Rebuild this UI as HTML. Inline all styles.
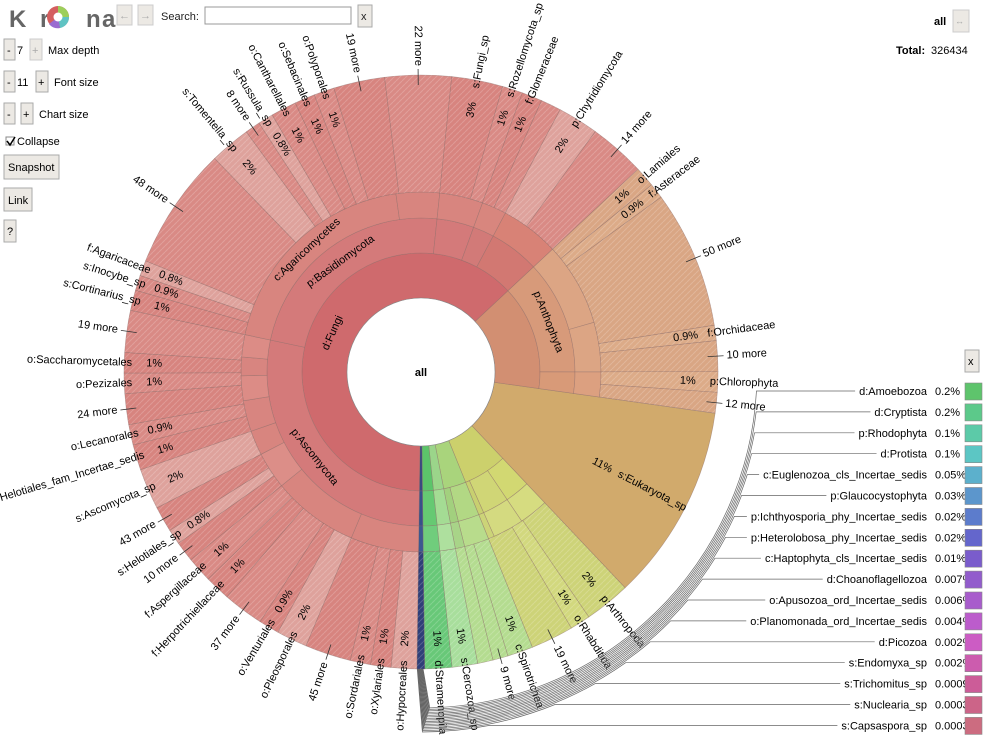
<!DOCTYPE html>
<html><head><meta charset="utf-8">
<style>
body{margin:0;background:#fff;font-family:"Liberation Sans",sans-serif;}
svg{display:block}
text{font-family:"Liberation Sans","DejaVu Sans",sans-serif;}
</style></head>
<body>
<svg id="chart" width="992" height="748" viewBox="0 0 992 748" xmlns="http://www.w3.org/2000/svg">
<defs>
<pattern id="hatch" width="6" height="6" patternUnits="userSpaceOnUse">
<path d="M0 3 L3 0 M3 6 L6 3" stroke="#ffffff" stroke-opacity="0.18" stroke-width="1"/>
</pattern>
</defs>
<g id="header">
<text x="9" y="27" font-size="24" font-weight="bold" fill="#666">K</text>
<text x="40" y="27" font-size="24" font-weight="bold" fill="#666">r</text>
<g>
<circle cx="58" cy="17" r="11" fill="#d45f5f"/>
<path d="M58 17 L58 6 A11 11 0 0 1 69 17 Z" fill="#9ccf5b"/>
<path d="M58 17 L69 17 A11 11 0 0 1 60 28 Z" fill="#5fc3c3"/>
<path d="M58 17 L60 28 A11 11 0 0 1 49 24 Z" fill="#9a6bd0"/>
<circle cx="58" cy="17" r="4.5" fill="#fff"/>
</g>
<text x="86" y="27" font-size="24" font-weight="bold" fill="#666">n</text>
<text x="102" y="27" font-size="24" font-weight="bold" fill="#666">a</text>
<rect x="117" y="5" width="15" height="20" fill="#ece9e4" stroke="#ccc"/>
<text x="119" y="19" font-size="11" fill="#aaa">←</text>
<rect x="138" y="5" width="15" height="20" fill="#ece9e4" stroke="#ccc"/>
<text x="140" y="19" font-size="11" fill="#aaa">→</text>
<text x="161" y="20" font-size="11" fill="#222">Search:</text>
<rect x="205" y="7" width="146" height="17" fill="#fff" stroke="#999"/>
<rect x="358" y="5" width="14" height="22" fill="#ece9e4" stroke="#aaa"/>
<text x="361" y="20" font-size="11" fill="#222">x</text>
<rect x="4" y="39" width="11" height="21" fill="#ece9e4" stroke="#aaa"/>
<text x="7" y="54" font-size="11">-</text>
<text x="17" y="54" font-size="11">7</text>
<rect x="30" y="39" width="12" height="21" fill="#ece9e4" stroke="#ccc"/>
<text x="32" y="54" font-size="11" fill="#aaa">+</text>
<text x="48" y="54" font-size="11">Max depth</text>
<rect x="4" y="71" width="11" height="21" fill="#ece9e4" stroke="#aaa"/>
<text x="7" y="86" font-size="11">-</text>
<text x="17" y="86" font-size="11">11</text>
<rect x="36" y="71" width="12" height="21" fill="#ece9e4" stroke="#aaa"/>
<text x="38" y="86" font-size="11">+</text>
<text x="54" y="86" font-size="11">Font size</text>
<rect x="4" y="103" width="11" height="21" fill="#ece9e4" stroke="#aaa"/>
<text x="7" y="118" font-size="11">-</text>
<rect x="21" y="103" width="12" height="21" fill="#ece9e4" stroke="#aaa"/>
<text x="23" y="118" font-size="11">+</text>
<text x="39" y="118" font-size="11">Chart size</text>
<rect x="6" y="137" width="8" height="8" fill="#fff" stroke="#888"/>
<path d="M7 141 L10 145 L15 137" stroke="#000" stroke-width="1.5" fill="none"/>
<text x="17" y="145" font-size="11">Collapse</text>
<rect x="4" y="155" width="55" height="24" fill="#ece9e4" stroke="#aaa"/>
<text x="8" y="171" font-size="11">Snapshot</text>
<rect x="4" y="188" width="28" height="23" fill="#ece9e4" stroke="#aaa"/>
<text x="8" y="204" font-size="11">Link</text>
<rect x="4" y="220" width="12" height="22" fill="#ece9e4" stroke="#aaa"/>
<text x="7" y="235" font-size="11">?</text>
<text x="934" y="25" font-size="11" font-weight="bold">all</text>
<rect x="953" y="10" width="16" height="22" fill="#ece9e4" stroke="#ccc"/>
<text x="955" y="24" font-size="9" fill="#aaa">↔</text>
<text x="896" y="54" font-size="11" font-weight="bold">Total:</text>
<text x="931" y="54" font-size="11">326434</text>
<rect x="965" y="350" width="14" height="22" fill="#ece9e4" stroke="#aaa"/>
<text x="968" y="365" font-size="11">x</text>
</g>
<g id="wedges"></g>
<g id="labels"></g>
<g id="legend"></g>
<circle cx="421" cy="372" r="74" fill="#fff" stroke="#888" stroke-width="0.6"/>
<text x="421" y="376" font-size="11" font-weight="bold" text-anchor="middle">all</text>
</svg>
<script>
// ---- data (values in percent of total, consecutive around the circle starting at 8deg) ----
const startAngle = 8;
const domainNames = ["s:Eukaryota_sp","d:...oa","d:Alveolata","d:...ia","d:Stramenopila","others","d:Fungi","d:Viridiplantae"];
const domainValues = [10.72,5.94,3.06,1.39,1.47,0.42,62.83,14.17];
const domainColors = ["#d1aa6c","#ccd06c","#a9d47c","#9bd58a","#5cc46a","#3a4a80","#cf6a6d","#d28f72"];
const phylumNames = ["","p:Arthropoda","p:N...oda","","p:Ciliophora","","","","","p:Ascomycota","p:Basidiomycota","p:Rozellomycota","p:...ta","","p:Anthophyta","p:Chlorophyta"];
const phylumValues = [10.72,2.61,2.78,0.55,2.22,0.84,1.39,1.47,0.42,28.11,23.33,3.89,2.22,5.28,11.94,2.23];
const phylumColors = [null,"#d2d872","#d0d676","#c8d070","#b2d884","#a2d07e","#a4dc94","#66c972","#37508a","#d47a7a","#d47a7a","#d47a7a","#d27a78","#d27872","#d79a7a","#d89a78"];
const className = ["","","c:Chromadorea","","c:Ce...edis","","","","","c:So...etes","c:Dothi...mycetes","c:Eur...cetes","c:Le...etes","","","","","c:Agaricomycetes","","","c:Glo...cetes","","c:Eudicotyledonae","c:Mon...donae",""];
const classValues = [10.72,2.61,2.78,0.55,2.22,0.84,1.39,1.47,0.42,6.11,7.78,3.33,2.22,2.78,2.22,1.67,2.0,19.44,3.89,3.89,2.22,5.28,7.5,4.44,2.23];
const classColors = [null,"#d6dc80","#d4da80","#ccd478","#b8dc8c","#a8d488","#aee09e","#70cd7c","#3c5890","#d8857f","#d8857f","#dc8e88","#d8857f","#d88580","#dc8c86","#d88580","#dc8c86","#d8857f","#d8857f","#d8857f","#d8867e","#d88276","#dca584","#dca584","#dca080"];
const leafNames = ["p:Arthropoda","o:Rhabditida","19 more","c:Spirotrichea","9 more","","s:Cercozoa_sp","d:Stramenopila","",
 "o:Hypocreales","o:Xylariales","o:Sordariales","45 more","o:Pleosporales","o:Venturiales","37 more","f:Herpotrichiellaceae","f:Aspergillaceae","10 more","s:Helotiales_sp","43 more","s:Ascomycota_sp","f:Helotiales_fam_Incertae_sedis","o:Lecanorales","24 more","o:Pezizales","o:Saccharomycetales","19 more",
 "s:Cortinarius_sp","s:Inocybe_sp","f:Agaricaceae","48 more","s:Tomentella_sp","8 more","s:Russula_sp","o:Cantharellales","o:Sebacinales","o:Polyporales","19 more","22 more",
 "s:Fungi_sp","s:Rozellomycota_sp","f:Glomeraceae","","p:Chytridiomycota","14 more",
 "o:Lamiales","f:Asteraceae","50 more","f:Orchidaceae","10 more","p:Chlorophyta","12 more"];
const leafValues = [2.5,1.11,2.33,1.39,0.83,0.84,1.39,1.47,0.42,
 1.39,1.11,1.11,2.5,1.67,1.11,2.22,1.39,1.39,1.11,0.83,1.39,2.22,1.39,1.11,1.67,1.11,1.11,2.28,
 1.11,0.83,0.83,6.67,2.22,0.83,0.83,1.39,1.11,1.11,2.78,3.61,
 2.78,1.11,1.11,1.11,2.22,3.06,
 1.11,0.83,7.5,0.83,1.67,1.11,1.12];
const leafPct = ["2%","1%","","1%","","","1%","1%","",
 "2%","1%","1%","","2%","0.9%","","1%","1%","","0.8%","","2%","1%","0.9%","","1%","1%","",
 "1%","0.9%","0.8%","","2%","","0.8%","1%","1%","1%","","",
 "3%","1%","1%","","2%","",
 "1%","0.9%","","0.9%","","1%",""];
const legendNames = ["d:Amoebozoa","d:Cryptista","p:Rhodophyta","d:Protista","c:Euglenozoa_cls_Incertae_sedis","p:Glaucocystophyta","p:Ichthyosporia_phy_Incertae_sedis","p:Heterolobosa_phy_Incertae_sedis","c:Haptophyta_cls_Incertae_sedis","d:Choanoflagellozoa","o:Apusozoa_ord_Incertae_sedis","o:Planomonada_ord_Incertae_sedis","d:Picozoa","s:Endomyxa_sp","s:Trichomitus_sp","s:Nuclearia_sp","s:Capsaspora_sp"];
const legendValues = ["0.2%","0.2%","0.1%","0.1%","0.05%","0.03%","0.02%","0.02%","0.01%","0.007%","0.006%","0.004%","0.002%","0.002%","0.0009%","0.0003%","0.0003%"];
const legendColors = ["#5ec46c","#5cc98a","#5ccaa8","#5cc6c4","#5cb0cc","#5c96cc","#5c7ccc","#6466cc","#7a5ccc","#925ccc","#a85ccc","#bc5ccc","#cc5cc4","#cc5cae","#cc5c98","#cc6488","#cc6c80"];

const cx = 421, cy = 372;
const R = {d0:74,d1:119,p1:154,c1:180,out:297};
const NS = "http://www.w3.org/2000/svg";
const wedgesG = document.getElementById('wedges');
const labelsG = document.getElementById('labels');
function angleOf(pct){ return startAngle + pct*3.6; }
function pt(r,a){ const t=a*Math.PI/180; return [cx+r*Math.cos(t), cy+r*Math.sin(t)]; }
function arc(r0,r1,a0,a1){
  const large = (a1-a0)>180?1:0;
  const p0=pt(r1,a0),p1=pt(r1,a1),p2=pt(r0,a1),p3=pt(r0,a0);
  return `M${p0[0]},${p0[1]} A${r1},${r1} 0 ${large} 1 ${p1[0]},${p1[1]} L${p2[0]},${p2[1]} A${r0},${r0} 0 ${large} 0 ${p3[0]},${p3[1]} Z`;
}
function wedge(r0,r1,a0,a1,fill,name,hatch){
  const p=document.createElementNS(NS,'path');
  p.setAttribute('d',arc(r0,r1,a0,a1));
  p.setAttribute('fill',fill);
  p.setAttribute('stroke','#8a6a66');
  p.setAttribute('stroke-opacity','0.55');
  p.setAttribute('stroke-width','0.6');
  
  
  wedgesG.appendChild(p);
  if(hatch){
    const h=document.createElementNS(NS,'path');
    h.setAttribute('d',arc(r0,r1,a0,a1));
    h.setAttribute('fill','url(#hatch)');
    h.setAttribute('pointer-events','none');
    
    
    wedgesG.appendChild(h);
  }
}
function radText(txt,r,a,name,anchorStart){
  const p=pt(r,a);
  let n=(a%360+360)%360;
  const left = n>90 && n<270;
  const rot = left? n+180 : n;
  const t=document.createElementNS(NS,'text');
  t.setAttribute('x',p[0]); t.setAttribute('y',p[1]);
  t.setAttribute('font-size','11');
  t.setAttribute('dominant-baseline','middle');
  t.setAttribute('text-anchor', anchorStart===undefined ? (left?'end':'start') : (anchorStart?(left?'end':'start'):'middle'));
  t.setAttribute('transform',`rotate(${rot} ${p[0]} ${p[1]})`);
  t.textContent=txt;
  
  
  labelsG.appendChild(t);
}
function ringText(txt,r0,r1,a0,a1,name){
  if(!txt) return;
  const r=(r0+r1)/2, a=(a0+a1)/2;
  const arcLen = (a1-a0)*Math.PI/180*r;
  const tl = txt.length*5.6;
  if(tl < arcLen*0.95){
    const p=pt(r,a);
    let rot = (a%360+360)%360;
    rot = (rot>0 && rot<180)? rot-90 : rot+90;
    const t=document.createElementNS(NS,'text');
    t.setAttribute('x',p[0]); t.setAttribute('y',p[1]);
    t.setAttribute('font-size','11');
    t.setAttribute('text-anchor','middle');
    t.setAttribute('dominant-baseline','middle');
    t.setAttribute('transform',`rotate(${rot} ${p[0]} ${p[1]})`);
    t.textContent=txt;
    
    
    labelsG.appendChild(t);
  }
}
// domain ring
let acc=0;
domainValues.forEach((v,i)=>{
  const a0=angleOf(acc), a1=angleOf(acc+v); acc+=v;
  if(i===0){ wedge(R.d0,R.out,a0,a1,domainColors[i],'wedge-eukaryota-sp',false);
    radText('11%',R.d0+130,(a0+a1)/2,'label-eukaryota-pct',false);
    radText('s:Eukaryota_sp',R.d0+148,(a0+a1)/2,'label-eukaryota-sp');
    return; }
  wedge(R.d0,R.d1,a0,a1,domainColors[i],'domain-'+(domainNames[i].replace(/[^a-z]/gi,'').toLowerCase()||'other'),false);
  if(v>2.5) ringText(domainNames[i],R.d0,R.d1,a0,a1,'domain-label-'+i);
});
// phylum ring
acc=0;
phylumValues.forEach((v,i)=>{
  const a0=angleOf(acc), a1=angleOf(acc+v); acc+=v;
  if(i===0) return;
  wedge(R.d1,R.p1,a0,a1,phylumColors[i],'phylum-wedge-'+i,false);
  ringText(phylumNames[i],R.d1,R.p1,a0,a1,'phylum-label-'+i);
});
// class ring
acc=0;
classValues.forEach((v,i)=>{
  const a0=angleOf(acc), a1=angleOf(acc+v); acc+=v;
  if(i===0) return;
  wedge(R.p1,R.c1,a0,a1,classColors[i],'class-wedge-'+i,false);
  ringText(className[i],R.p1,R.c1,a0,a1,'class-label-'+i);
});
// leaf / outer ring
acc=phylumValues[0];
leafValues.forEach((v,i)=>{
  const a0=angleOf(acc), a1=angleOf(acc+v); acc+=v;
  const mid=(a0+a1)/2;
  let col;
  if(mid<68) col= i%2? "#d2d87e":"#cdd378";
  else if(mid<79) col="#b4dc90";
  else if(mid<84) col="#a8de9c";
  else if(mid<89.5) col="#68c878";
  else if(mid<90.9) col="#2f3f78";
  else if(mid<317) col= leafPct[i]==="2%"||leafPct[i]==="0.8%" ? "#dea29c" : (i%2?"#d98a85":"#d7847f");
  else col= i%2?"#dcab88":"#d9a684";
  wedge(R.c1,R.out,a0,a1,col,'leaf-wedge-'+i,true);
  const name=leafNames[i];
  if(!name) return;
  if(name.indexOf('more')>=0){
    const q0=pt(R.out-10,mid), q1=pt(R.out+6,mid);
    const l=document.createElementNS(NS,'line');
    l.setAttribute('x1',q0[0]);l.setAttribute('y1',q0[1]);l.setAttribute('x2',q1[0]);l.setAttribute('y2',q1[1]);
    l.setAttribute('stroke','#333');l.setAttribute('stroke-width','0.8');
    
    
    labelsG.appendChild(l);
    radText(name,R.out+9,mid,'outer-label-'+i);
  } else {
    if(leafPct[i]) radText(leafPct[i],R.out-30,mid,'leaf-pct-'+i,false);
    radText(name,R.out-8,mid,'outer-label-'+i);
  }
});
// legend
const legendG=document.getElementById('legend');
legendNames.forEach((n,i)=>{
  const y=391+i*20.9;
  const t=document.createElementNS(NS,'text');
  t.setAttribute('x',927);t.setAttribute('y',y+4);t.setAttribute('font-size','11');t.setAttribute('text-anchor','end');
  t.textContent=n;
  
  
  legendG.appendChild(t);
  const pv=document.createElementNS(NS,'text');
  pv.setAttribute('x',935);pv.setAttribute('y',y+4);pv.setAttribute('font-size','11');
  pv.textContent=legendValues[i];
  
  
  legendG.appendChild(pv);
  const r=document.createElementNS(NS,'rect');
  r.setAttribute('x',965);r.setAttribute('y',y-8);r.setAttribute('width',17);r.setAttribute('height',17);
  r.setAttribute('fill',legendColors[i]);r.setAttribute('stroke','#888');r.setAttribute('stroke-width','0.6');
  
  
  legendG.appendChild(r);
  const w=t.getComputedTextLength? t.getComputedTextLength():n.length*6;
  const x0=927-w-4;
  const Rr=336+i*1.5;
  const dy=y-cy;
  const xa=cx+Math.sqrt(Math.max(Rr*Rr-dy*dy,0));
  const endA=88.5+i*0.08;
  const pe=pt(Rr,endA);
  const pin=pt(R.out,89.6+i*0.07);
  const path=document.createElementNS(NS,'path');
  path.setAttribute('d',`M${x0},${y} L${xa},${y} A${Rr},${Rr} 0 0 1 ${pe[0]},${pe[1]} L${pin[0]},${pin[1]}`);
  path.setAttribute('fill','none');path.setAttribute('stroke','#666');path.setAttribute('stroke-width','0.7');
  
  
  legendG.appendChild(path);
});
</script>
</body></html>
